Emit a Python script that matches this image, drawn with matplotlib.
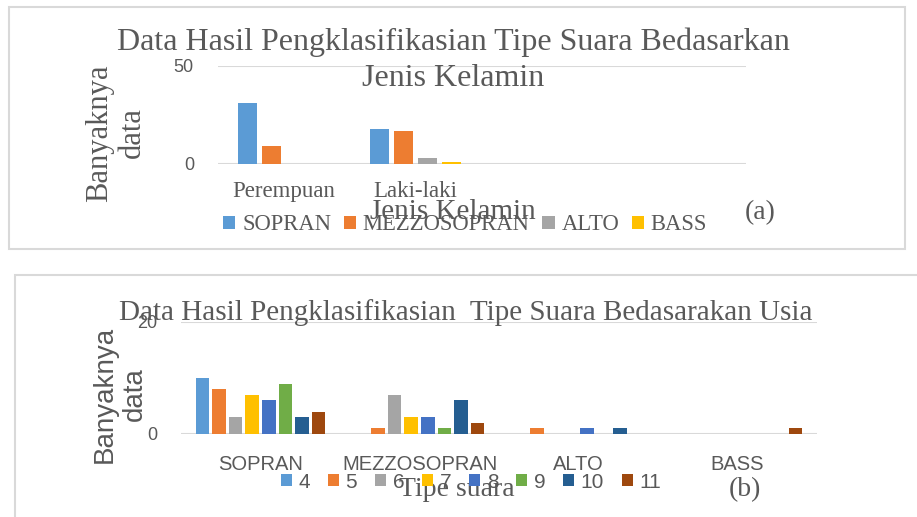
import numpy as np
import matplotlib
matplotlib.use("Agg")
import matplotlib.pyplot as plt
from matplotlib.patches import Rectangle

# data (a): voice type by gender
gender_cats = ["Perempuan", "Laki-laki", "", ""]
voice_types = ["SOPRAN", "MEZZOSOPRAN", "ALTO", "BASS"]
sopran_g = [31, 18, 0, 0]
mezzo_g = [9, 17, 0, 0]
alto_g = [0, 3, 0, 0]
bass_g = [0, 1, 0, 0]

# data (b): voice type by age
age_labels = ["4", "5", "6", "7", "8", "9", "10", "11"]
age_4 = [10, 0, 0, 0]
age_5 = [8, 1, 1, 0]
age_6 = [3, 7, 0, 0]
age_7 = [7, 3, 0, 0]
age_8 = [6, 3, 1, 0]
age_9 = [9, 1, 0, 0]
age_10 = [3, 6, 1, 0]
age_11 = [4, 2, 0, 1]

colors = ["#5B9BD5", "#ED7D31", "#A5A5A5", "#FFC000",
          "#4472C4", "#70AD47", "#255E91", "#9E480E"]
txt = "#595959"
grid_c = "#D9D9D9"
SERIF = "Liberation Serif"
SANS = "Liberation Sans"

W, H = 917, 517
fig = plt.figure(figsize=(W / 100, H / 100), dpi=100)


def fx(x):
    return x / W


def fy(y):
    return 1 - y / H


def ax_box(x0, y0, x1, y1):
    return [fx(x0), fy(y1), fx(x1) - fx(x0), fy(y0) - fy(y1)]


# panel borders
fig.patches.append(Rectangle((fx(9), fy(249)), fx(905) - fx(9), fy(7) - fy(249),
                             transform=fig.transFigure, fill=False,
                             edgecolor=grid_c, lw=1.5))
fig.patches.append(Rectangle((fx(15), fy(530)), fx(930) - fx(15), fy(275) - fy(530),
                             transform=fig.transFigure, fill=False,
                             edgecolor=grid_c, lw=1.5))


def style_axes(ax, ymax, ypad, xpad, xfont):
    ax.set_ylim(0, ymax)
    ax.set_yticks([0, ymax])
    for s in ax.spines.values():
        s.set_visible(False)
    ax.yaxis.grid(True, color=grid_c, lw=1.5)
    ax.set_axisbelow(True)
    ax.tick_params(axis="both", length=0, colors=txt)
    ax.tick_params(axis="y", pad=ypad, labelsize=13)
    ax.tick_params(axis="x", pad=xpad)
    for lab in ax.get_yticklabels():
        lab.set_fontfamily(SANS)
    for lab in ax.get_xticklabels():
        lab.set_fontfamily(xfont[0])
        lab.set_fontsize(xfont[1])


# ---------- chart (a) ----------
ax1 = fig.add_axes(ax_box(217.5, 66, 745.5, 164))
series_a = [sopran_g, mezzo_g, alto_g, bass_g]
xa = np.arange(len(gender_cats))
step_a = 0.182
for i, vals in enumerate(series_a):
    ax1.bar(xa + (i - 1.5) * step_a, vals, width=0.144, color=colors[i],
            label=voice_types[i])
ax1.set_xlim(-0.5, len(gender_cats) - 0.5)
ax1.set_xticks(xa)
ax1.set_xticklabels(gender_cats)
style_axes(ax1, 50, 17, 12, (SERIF, 16.5))

fig.text(fx(453), fy(42), "Data Hasil Pengklasifikasian Tipe Suara Bedasarkan",
         ha="center", va="center", fontsize=23, family=SERIF, color=txt)
fig.text(fx(453), fy(78), "Jenis Kelamin",
         ha="center", va="center", fontsize=23, family=SERIF, color=txt)
fig.text(fx(116), fy(133), "Banyaknya\ndata", rotation=90, ha="center",
         va="center", multialignment="center", fontsize=22, family=SERIF,
         color=txt, linespacing=1.15)
fig.text(fx(453), fy(212), "Jenis Kelamin", ha="center", va="center",
         fontsize=21, family=SERIF, color=txt)
fig.text(fx(760), fy(213), "(a)", ha="center", va="center",
         fontsize=20, family=SERIF, color=txt)
fig.legend(*ax1.get_legend_handles_labels(), loc="center",
           bbox_to_anchor=(fx(465), fy(225)), ncol=4, frameon=False,
           handlelength=0.55, handleheight=0.55, handletextpad=0.3,
           columnspacing=0.55, borderaxespad=0,
           prop={"family": SERIF, "size": 16.3}, labelcolor=txt)

# ---------- chart (b) ----------
ax2 = fig.add_axes(ax_box(181, 322, 817, 434))
series_b = [age_4, age_5, age_6, age_7, age_8, age_9, age_10, age_11]
xb = np.arange(len(voice_types))
step_b = 0.1044
for i, vals in enumerate(series_b):
    ax2.bar(xb + (i - 3.5) * step_b, vals, width=0.085, color=colors[i],
            label=age_labels[i])
ax2.set_xlim(-0.5, len(voice_types) - 0.5)
ax2.set_xticks(xb)
ax2.set_xticklabels(voice_types)
style_axes(ax2, 20, 17, 15, (SANS, 14.5))

fig.text(fx(466), fy(313), "Data Hasil Pengklasifikasian  Tipe Suara Bedasarakan Usia",
         ha="center", va="center", fontsize=21, family=SERIF, color=txt)
fig.text(fx(120), fy(394), "Banyaknya\ndata", rotation=90, ha="center",
         va="center", multialignment="center", fontsize=20, family=SANS,
         color=txt, linespacing=1.2)
fig.text(fx(457), fy(490), "Tipe suara", ha="center", va="center",
         fontsize=20, family=SERIF, color=txt)
fig.text(fx(745), fy(490), "(b)", ha="center", va="center",
         fontsize=20, family=SERIF, color=txt)
fig.legend(*ax2.get_legend_handles_labels(), loc="center",
           bbox_to_anchor=(fx(471), fy(482)), ncol=8, frameon=False,
           handlelength=0.55, handleheight=0.55, handletextpad=0.3,
           columnspacing=0.85, borderaxespad=0,
           prop={"family": SANS, "size": 15}, labelcolor=txt)

fig.savefig("out.png", dpi=100)
